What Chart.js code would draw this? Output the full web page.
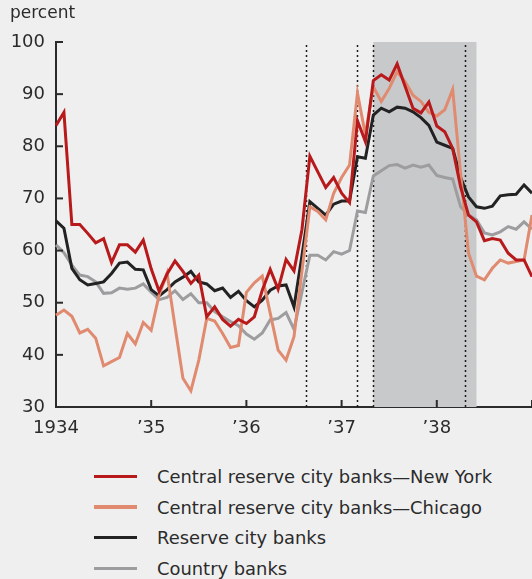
<!DOCTYPE html>
<html lang="en">
<head>
<meta charset="UTF-8">
<title>Reserve ratios by class of bank, 1934–38</title>
<script src="https://cdn.jsdelivr.net/npm/chart.js@4.4.1/dist/chart.umd.min.js"></script>
<style>
  html, body { margin: 0; padding: 0; background: #efefef; }
  body { width: 532px; height: 579px; position: relative; overflow: hidden; font-family: "DejaVu Sans", sans-serif; color: #2b2b2b; }
  #chart { position: absolute; left: 0; top: 0; }
  .legend { position: absolute; left: 94px; top: 461px; list-style: none; margin: 0; padding: 0; }
  .legend li { height: 30.7px; display: flex; align-items: center; font-size: 17.9px; white-space: nowrap; }
  .legend .swatch { width: 43px; height: 3.5px; margin-right: 20px; }
</style>
</head>
<body>
<canvas id="chart" width="532" height="445"></canvas>
<ul class="legend" id="legend"></ul>

<script>
// monthly, Jan 1934 .. Jan 1939
const years = ['1934', '1935', '1936', '1937', '1938', '1939'];
const monthNums = ['01', '02', '03', '04', '05', '06', '07', '08', '09', '10', '11', '12'];
const yearTickLabels = { '1934': '1934', '1935': '’35', '1936': '’36', '1937': '’37', '1938': '’38', '1939': '' };

const newYork = [84, 86.5, 65, 65, 63.3, 61.5, 62.3, 57.7, 61.1, 61.1, 59.7, 62,
  56.5, 52.2, 55.5, 58, 56, 53.7, 55.3, 47.3, 49.2, 46.8, 45.5, 46.8,
  46, 47.3, 52.4, 56.4, 52.6, 58.3, 56.1, 64, 78.1, 75.1, 72.1, 74,
  71, 69.2, 84.9, 80.9, 92.6, 93.7, 92.7, 95.8, 91.5, 87.3, 86.4, 88.5,
  83.9, 82.8, 79.6, 72.2, 66.8, 65.5, 61.9, 62.3, 62, 59.5, 58.2, 58.2,
  55];
const chicago = [47.6, 48.6, 47.4, 44.2, 44.9, 43.2, 37.9, 38.7, 39.5, 44.1, 42.1, 46.2,
  44.7, 51.5, 55.7, 45.5, 35.5, 33.1, 39, 47, 46.5, 44.1, 41.4, 41.8,
  52, 53.8, 55.1, 48, 40.9, 39, 43.5, 56, 68.4, 67.5, 65.9, 71,
  74, 76.4, 90.2, 82.2, 91.4, 88.6, 91.1, 94.3, 92.4, 89.8, 88.6, 86.5,
  85.8, 87, 90.9, 74.8, 59.5, 55.1, 54.4, 56.6, 58.2, 57.6, 57.9, 58.2,
  66.8];
const reserveCity = [65.7, 64.3, 56.6, 54.4, 53.4, 53.7, 54, 55.6, 57.6, 57.8, 56.4, 56.3,
  52.5, 51.3, 52.5, 54, 54.9, 56, 54, 53.6, 52.3, 52.8, 51, 52.2,
  50.4, 49.2, 50.5, 52.4, 53.2, 53.4, 49.2, 59, 69.4, 68.1, 66.8, 68.9,
  69.5, 69.5, 78, 77.7, 86, 87.3, 86.6, 87.5, 87.3, 86.6, 85.5, 84,
  80.8, 80.2, 79.6, 74, 70.3, 68.4, 68.1, 68.5, 70.5, 70.7, 70.8, 72.6,
  71];
const country = [61.1, 59.6, 57.2, 55.3, 55, 54, 51.8, 51.9, 52.8, 52.6, 52.8, 53.6,
  52, 50.6, 51, 52.3, 50.6, 51.7, 50, 50, 48.3, 47.3, 46.4, 45.6,
  44, 43, 44.2, 46.7, 47, 48.1, 44.9, 52, 59.1, 59.1, 58.2, 59.8,
  59.3, 60, 67.6, 67.3, 74.3, 75.3, 76.3, 76.5, 75.8, 76.4, 76, 76.4,
  74.4, 74, 73.7, 68.4, 66.8, 65.9, 63.4, 63, 63.6, 64.6, 64.1, 65.5,
  64.1];

const seriesNames = ['Central reserve city banks—New York', 'Central reserve city banks—Chicago', 'Reserve city banks', 'Country banks'];
const seriesColors = ['#b8191b', '#e08a70', '#222222', '#9d9d9f'];

// reserve requirement changes and the 1937–38 recession
const requirementDates = ['1936-08-16', '1937-03-01', '1937-05-01', '1938-04-16'];
const recession = ['1937-05-01', '1938-06-01'];

const labels = [];
years.forEach(y => monthNums.forEach(m => labels.push(y + '-' + m)));
labels.length = newYork.length;

const toIndex = d => {
  const [y, m, day] = d.split('-').map(Number);
  return (y - 1934) * 12 + (m - 1) + (day - 1) / 30;
};

const ink = '#2b2b2b';

const extras = {
  id: 'extras',
  beforeDatasetsDraw(chart) {
    const { ctx, chartArea: a, scales: { x } } = chart;
    ctx.save();
    const x0 = x.getPixelForValue(toIndex(recession[0]));
    const x1 = x.getPixelForValue(toIndex(recession[1]));
    ctx.fillStyle = '#c8c9cb';
    ctx.fillRect(x0, a.top, x1 - x0, a.bottom - a.top);

    ctx.strokeStyle = '#1a1a1a';
    ctx.lineWidth = 1.5;
    ctx.setLineDash([2, 3]);
    requirementDates.forEach(d => {
      const px = Math.round(x.getPixelForValue(toIndex(d))) + 0.5;
      ctx.beginPath();
      ctx.moveTo(px, a.top + 3);
      ctx.lineTo(px, a.bottom);
      ctx.stroke();
    });
    ctx.restore();
  },
  afterDraw(chart) {
    const { ctx, chartArea: a, scales: { x, y } } = chart;
    ctx.save();
    ctx.strokeStyle = ink;
    ctx.lineWidth = 2;
    // inward tick marks
    y.ticks.forEach(t => {
      const py = y.getPixelForValue(t.value);
      ctx.beginPath();
      ctx.moveTo(a.left, py);
      ctx.lineTo(a.left + 7, py);
      ctx.stroke();
    });
    labels.forEach((l, i) => {
      if (!l.endsWith('-01')) return;
      const px = x.getPixelForValue(i);
      ctx.beginPath();
      ctx.moveTo(px, a.bottom);
      ctx.lineTo(px, a.bottom - 7);
      ctx.stroke();
    });
    ctx.fillStyle = ink;
    ctx.font = '17px "DejaVu Sans"';
    ctx.textBaseline = 'alphabetic';
    ctx.fillText('percent', 10, 17.5);
    ctx.restore();
  }
};

const data = [newYork, chicago, reserveCity, country];

new Chart(document.getElementById('chart'), {
  type: 'line',
  data: {
    labels,
    datasets: data.map((d, i) => ({
      label: seriesNames[i],
      data: d,
      borderColor: seriesColors[i],
      backgroundColor: seriesColors[i],
      borderWidth: 3,
      pointRadius: 0,
      tension: 0
    }))
  },
  options: {
    responsive: false,
    animation: false,
    layout: { padding: { top: 42, right: 0, bottom: 0, left: 0 } },
    plugins: { legend: { display: false }, tooltip: { enabled: false } },
    scales: {
      x: {
        type: 'category',
        offset: false,
        grid: { display: false, drawTicks: false },
        border: { display: true, color: ink, width: 2 },
        ticks: {
          autoSkip: false,
          maxRotation: 0,
          padding: 0,
          color: ink,
          font: { family: 'DejaVu Sans', size: 18, lineHeight: '42px' },
          callback: (v, i) => labels[i].endsWith('-01') ? yearTickLabels[labels[i].slice(0, 4)] : ''
        },
        afterFit: s => { s.height = 38; }
      },
      y: {
        min: 30,
        max: 100,
        grid: { display: false, drawTicks: false },
        border: { display: true, color: ink, width: 2 },
        ticks: {
          stepSize: 10,
          padding: 11,
          color: ink,
          font: { family: 'DejaVu Sans', size: 18 }
        },
        afterFit: s => { s.width = 56; }
      }
    }
  },
  plugins: [extras]
});

const legend = document.getElementById('legend');
seriesNames.forEach((name, i) => {
  const li = document.createElement('li');
  const sw = document.createElement('span');
  sw.className = 'swatch';
  sw.style.background = seriesColors[i];
  li.appendChild(sw);
  li.appendChild(document.createTextNode(name));
  legend.appendChild(li);
});
</script>
</body>
</html>
